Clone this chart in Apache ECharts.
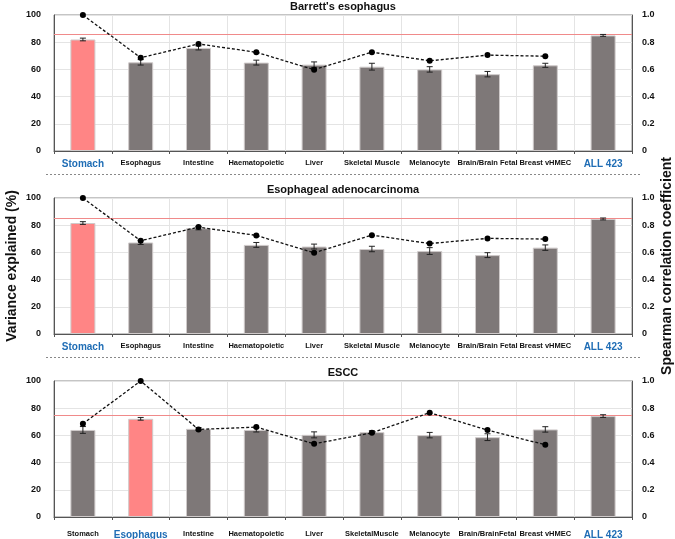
<!DOCTYPE html>
<html>
<head>
<meta charset="utf-8">
<script src="https://cdn.jsdelivr.net/npm/echarts@6/dist/echarts.min.js"></script>
<style>
html,body{margin:0;padding:0;background:#fff;}
#chart{width:675px;height:539px;}
</style>
</head>
<body>
<div id="chart"></div>
<script>
// ---- data ----
const categoriesTop = ['Stomach','Esophagus','Intestine','Haematopoietic','Liver','Skeletal Muscle','Melanocyte','Brain/Brain Fetal','Breast vHMEC','ALL 423'];
const categoriesBottom = ['Stomach','Esophagus','Intestine','Haematopoietic','Liver','SkeletalMuscle','Melanocyte','Brain/BrainFetal','Breast vHMEC','ALL 423'];
const panelTitles = ["Barrett's esophagus", 'Esophageal adenocarcinoma', 'ESCC'];

const barrettVar = [82, 65.2, 75.8, 65, 63.5, 62, 60, 56.5, 63, 85];
const barrettErr = [1, 2, 1.5, 1.8, 2, 2.5, 2, 2, 1.5, 0.7];
const barrettRho = [1.0, 0.686, 0.787, 0.726, 0.598, 0.727, 0.663, 0.705, 0.697, null];

const eacVar = [81.6, 67.3, 77.8, 65.5, 64.3, 62.5, 61, 58, 63.5, 84.6];
const eacErr = [1, 1.5, 1.2, 1.8, 1.8, 2, 2.5, 1.8, 2, 0.7];
const eacRho = [1.0, 0.686, 0.786, 0.725, 0.597, 0.727, 0.665, 0.703, 0.698, null];

const esccVar = [64, 72.2, 64.8, 64, 60.4, 62.4, 60.2, 58.7, 64.4, 74.2];
const esccErr = [2.5, 1, 1, 1.5, 2.2, 1, 2, 2.5, 2, 1];
const esccRho = [0.686, 1.0, 0.644, 0.661, 0.538, 0.619, 0.767, 0.639, 0.531, null];

const refLine = [85.5, 85.3, 74.7];
const highlightIdx = [[0, 9], [0, 9], [1, 9]];
const leftTicks = [0, 20, 40, 60, 80, 100];
const rightTicks = [0, 0.2, 0.4, 0.6, 0.8, 1.0];

// ---- build ----
const panels = [
  {cats: categoriesTop, v: barrettVar, e: barrettErr, r: barrettRho},
  {cats: categoriesTop, v: eacVar, e: eacErr, r: eacRho},
  {cats: categoriesBottom, v: esccVar, e: esccErr, r: esccRho}
];
const gridTops = [15, 198, 381];
const FONT = 'Arial, "Liberation Sans", Helvetica, sans-serif';
const GRAY = '#7e7878';
const PINK = '#ff8585';
const BLUE = '#1f6db5';

const grids = [], xAxes = [], yAxes = [], series = [], titles = [];

panels.forEach((p, k) => {
  grids.push({left: 54, width: 578, top: gridTops[k], height: 136, show: true,
    containLabel: false, outerBoundsMode: 'none',
    borderColor: '#8a8a8a', borderWidth: 1, backgroundColor: 'transparent'});
  titles.push({text: panelTitles[k], left: 343, textAlign: 'center', top: gridTops[k] - 14, padding: 0,
    textStyle: {fontFamily: FONT, fontSize: 11, fontWeight: 'bold', color: '#111'}});
  const hl = highlightIdx[k];
  xAxes.push({type: 'category', gridIndex: k, data: p.cats,
    axisLine: {lineStyle: {color: '#555', width: 1}},
    axisTick: {show: true, length: 3, lineStyle: {color: '#555'}},
    splitLine: {show: true, lineStyle: {color: '#e4e4e4', width: 1}},
    axisLabel: {interval: 0, hideOverlap: false, margin: k === 2 ? 13 : 8,
      formatter: (val, i) => hl.includes(i) ? '{h|' + val + '}' : '{n|' + val + '}',
      rich: {
        n: {fontFamily: FONT, fontSize: 7.5, fontWeight: 'bold', color: '#111'},
        h: {fontFamily: FONT, fontSize: 10, fontWeight: 'bold', color: BLUE}
      }}
  });
  yAxes.push({type: 'value', gridIndex: k, min: leftTicks[0], max: leftTicks[leftTicks.length - 1], interval: 20,
    axisLine: {show: true, lineStyle: {color: '#555'}},
    axisTick: {show: false},
    splitLine: {show: true, lineStyle: {color: '#e4e4e4'}},
    axisLabel: {margin: 13, fontFamily: FONT, fontSize: 9, fontWeight: 'bold', color: '#111'},
    name: k === 1 ? 'Variance explained (%)' : '', nameLocation: 'middle', nameGap: 35,
    nameMoveOverlap: false,
    nameTextStyle: {fontFamily: FONT, fontSize: 14, fontWeight: 'bold', color: '#111'}
  });
  yAxes.push({type: 'value', gridIndex: k, min: rightTicks[0], max: rightTicks[rightTicks.length - 1], interval: 0.2,
    position: 'right',
    axisLine: {show: true, lineStyle: {color: '#555'}},
    axisTick: {show: false},
    splitLine: {show: false},
    axisLabel: {margin: 10, fontFamily: FONT, fontSize: 9, fontWeight: 'bold', color: '#111',
      formatter: v => v === 0 ? '0' : v.toFixed(1)},
    name: k === 1 ? 'Spearman correlation coefficient' : '', nameLocation: 'middle', nameGap: 28,
    nameMoveOverlap: false,
    nameTextStyle: {fontFamily: FONT, fontSize: 14, fontWeight: 'bold', color: '#111'}
  });
  series.push({type: 'bar', xAxisIndex: k, yAxisIndex: 2 * k, barWidth: 25,
    data: p.v.map((v, i) => ({value: v, itemStyle: {color: (hl[0] === i) ? PINK : GRAY}})),
    itemStyle: {borderColor: '#cfcaca', borderWidth: 1},
    silent: true,
    markLine: {symbol: 'none', silent: true, label: {show: false},
      lineStyle: {color: '#f08a8a', width: 1.2, type: 'solid'},
      data: [{yAxis: refLine[k]}]}
  });
  series.push({type: 'custom', xAxisIndex: k, yAxisIndex: 2 * k, z: 5,
    data: p.v.map((v, i) => [i, v, p.e[i]]),
    renderItem: (params, api) => {
      const i = api.value(0), v = api.value(1), e = api.value(2);
      const hi = api.coord([i, v + e]);
      const lo = api.coord([i, v - e]);
      const w = 3;
      const st = {stroke: '#222', lineWidth: 1};
      return {type: 'group', children: [
        {type: 'line', shape: {x1: hi[0], y1: hi[1], x2: lo[0], y2: lo[1]}, style: st},
        {type: 'line', shape: {x1: hi[0] - w, y1: hi[1], x2: hi[0] + w, y2: hi[1]}, style: st},
        {type: 'line', shape: {x1: lo[0] - w, y1: lo[1], x2: lo[0] + w, y2: lo[1]}, style: st}
      ]};
    }
  });
  series.push({type: 'line', xAxisIndex: k, yAxisIndex: 2 * k + 1, z: 6,
    data: p.r, connectNulls: false,
    symbol: 'circle', symbolSize: 6,
    itemStyle: {color: '#000'},
    lineStyle: {color: '#111', width: 1.3, type: [3, 2]}
  });
});

const chart = echarts.init(document.getElementById('chart'), null, {renderer: 'canvas'});
chart.setOption({
  animation: false,
  backgroundColor: '#fff',
  title: titles,
  grid: grids,
  xAxis: xAxes,
  yAxis: yAxes,
  series: series,
  graphic: [
    {type: 'line', shape: {x1: 46, y1: 174.5, x2: 640, y2: 174.5}, style: {stroke: '#888', lineWidth: 1, lineDash: [2, 2]}},
    {type: 'line', shape: {x1: 46, y1: 357.5, x2: 640, y2: 357.5}, style: {stroke: '#888', lineWidth: 1, lineDash: [2, 2]}}
  ]
});
</script>
</body>
</html>
